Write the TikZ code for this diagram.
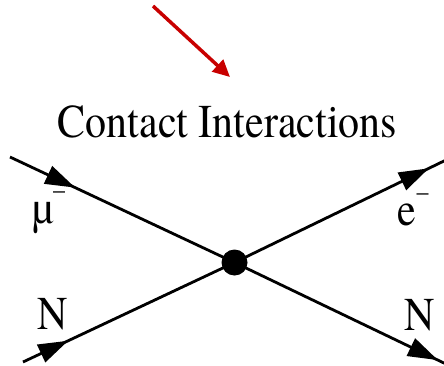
\documentclass[tikz,border=0pt]{standalone}
\usepackage{fontspec}
\newfontfamily\tnr{texgyretermes-regular.otf}
\usetikzlibrary{arrows.meta,decorations.markings}
\definecolor{arrred}{RGB}{200,0,0}
\newcommand{\bigtxt}[1]{\scalebox{1}[1.12]{\tnr\fontsize{42}{42}\selectfont #1}}
\newcommand{\supminus}{\raisebox{22pt}{\fontsize{24}{24}\selectfont –}}
\begin{document}
\begin{tikzpicture}[x=1pt,y=-1pt,
  fermion/.style={line width=2.8pt,black},
  fermtip/.style={postaction={decorate},decoration={markings,
     mark=at position #1 with {\arrow{Triangle[length=30pt,width=19pt]}}}},
  lbl/.style={anchor=base west,inner sep=0pt,outer sep=0pt}]
\useasboundingbox (0,0) rectangle (444,365);
% red pointer arrow
\coordinate (ra) at (153,6);
\coordinate (rb) at (230,77);
\draw[arrred,line width=3.5pt,-{Triangle[length=17pt,width=16pt]}] (ra) -- (rb);
% title
\node[anchor=base,inner sep=0pt] (title) at (227.5,137) {\bigtxt{Contact Interactions}};
% vertex and external legs
\coordinate (vc) at (234.5,262.5);
\coordinate (tl) at (10,157);
\coordinate (tr) at (446,160);
\coordinate (bl) at (23,362);
\coordinate (br) at (446,364);
\draw[fermion,fermtip=72pt] (tl) -- (vc);
\draw[fermion,fermtip=-19pt] (vc) -- (tr);
\draw[fermion,fermtip=50pt] (bl) -- (vc);
\draw[fermion,fermtip=-9pt] (vc) -- (br);
\node[circle,fill=black,minimum size=26pt,inner sep=0pt] (v) at (vc) {};
% labels
\node[lbl] (mu) at (32,223) {\bigtxt{µ\supminus}};
\node[lbl] (e) at (397,225) {\bigtxt{e\kern1pt\supminus}};
\node[lbl] (nl) at (37,329) {\bigtxt{N}};
\node[lbl] (nr) at (404,330) {\bigtxt{N}};
\end{tikzpicture}
\end{document}
